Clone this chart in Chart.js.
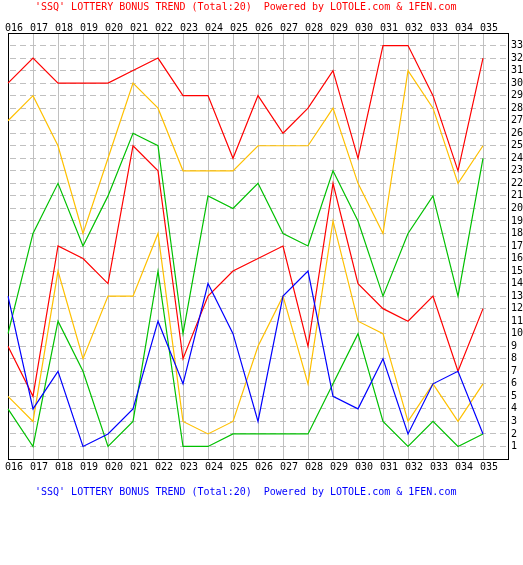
<!DOCTYPE html>
<html>
<head>
<meta charset="utf-8">
<title>SSQ Lottery Bonus Trend</title>
<script src="https://cdn.jsdelivr.net/npm/chart.js@4.4.1/dist/chart.umd.min.js"></script>
<style>
  html, body { margin: 0; padding: 0; background: #fff; }
  #wrap { width: 523px; height: 565px; }
</style>
</head>
<body>
<div id="wrap"><canvas id="trend" width="523" height="565"></canvas></div>
<script>
/* ----------------------------------------------------------
   DATA (issues 016 - 035, red balls sorted + blue ball)
---------------------------------------------------------- */
const periods = ["016","017","018","019","020","021","022","023","024","025",
                 "026","027","028","029","030","031","032","033","034","035"];

const red6  = [30,32,30,30,30,31,32,29,29,24,29,26,28,31,24,33,33,29,23,32];
const red5  = [27,29,25,18,24,30,28,23,23,23,25,25,25,28,22,18,31,28,22,25];
const red4  = [10,18,22,17,21,26,25,10,21,20,22,18,17,23,19,13,18,21,13,24];
const red3  = [ 9, 5,17,16,14,25,23, 8,13,15,16,17, 9,22,14,12,11,13, 7,12];
const red2  = [ 5, 3,15, 8,13,13,18, 3, 2, 3, 9,13, 6,19,11,10, 3, 6, 3, 6];
const red1  = [ 4, 1,11, 7, 1, 3,15, 1, 1, 2, 2, 2, 2, 6,10, 3, 1, 3, 1, 2];
const blue  = [13, 4, 7, 1, 2, 4,11, 6,14,10, 3,13,15, 5, 4, 8, 2, 6, 7, 2];

const yMin = 0, yMax = 34;   // ticks 1..33 shown

const titleText = "'SSQ' LOTTERY BONUS TREND (Total:20)  Powered by LOTOLE.com & 1FEN.com";

/* ----------------------------------------------------------
   STYLE
---------------------------------------------------------- */
const MONO = "'DejaVu Sans Mono', 'Liberation Mono', monospace";
const RED = "#ff0000", ORANGE = "#ffc000", GREEN = "#00c000", BLUE = "#0000ff";
const GRID = "#c0c0c0";

function line(data, color) {
  return {
    data: data,
    borderColor: color,
    backgroundColor: color,
    borderWidth: 1.2,
    pointRadius: 0,
    tension: 0,
    fill: false
  };
}

// black frame round the plot, under the lines
const framePlugin = {
  id: "frame",
  beforeDatasetsDraw(chart) {
    const a = chart.chartArea, ctx = chart.ctx;
    ctx.save();
    ctx.strokeStyle = "#000";
    ctx.lineWidth = 1;
    ctx.strokeRect(Math.round(a.left) + 0.5, Math.round(a.top) + 0.5,
                   Math.round(a.right - a.left), Math.round(a.bottom - a.top));
    ctx.restore();
  }
};

// header (red) + footer (blue) text
const captionPlugin = {
  id: "captions",
  afterDraw(chart) {
    const ctx = chart.ctx;
    ctx.save();
    ctx.font = "10px " + MONO;
    ctx.textAlign = "left";
    ctx.textBaseline = "middle";
    ctx.fillStyle = RED;
    ctx.fillText(titleText, 35, 7);
    ctx.fillStyle = BLUE;
    ctx.fillText(titleText, 35, 492);
    ctx.restore();
  }
};

function xTicks(pad) {
  return {
    autoSkip: false,
    maxRotation: 0,
    minRotation: 0,
    align: "start",
    labelOffset: -3,
    padding: pad,
    color: "#000",
    font: { family: MONO, size: 10 }
  };
}

new Chart(document.getElementById("trend"), {
  type: "line",
  data: {
    labels: periods.concat([""]),
    datasets: [
      line(blue, BLUE),
      line(red6, RED),
      line(red5, ORANGE),
      line(red4, GREEN),
      line(red3, RED),
      line(red2, ORANGE),
      line(red1, GREEN)
    ]
  },
  options: {
    responsive: false,
    animation: false,
    events: [],
    layout: { padding: { left: 8, right: 0, top: 20, bottom: 93 } },
    plugins: {
      legend: { display: false },
      title: { display: false },
      tooltip: { enabled: false }
    },
    scales: {
      x: {
        type: "category",
        position: "bottom",
        offset: false,
        grid: { color: GRID, lineWidth: 1, drawTicks: false },
        border: { display: false },
        ticks: xTicks(2),
        afterFit: s => { s.height = 13; }
      },
      x2: {
        type: "category",
        position: "top",
        offset: false,
        grid: { display: false, drawTicks: false },
        border: { display: false },
        ticks: xTicks(-1),
        afterFit: s => { s.height = 13; }
      },
      y: {
        position: "right",
        min: yMin,
        max: yMax,
        grid: { color: GRID, lineWidth: 1, drawTicks: false },
        border: { display: false, dash: [6, 4], dashOffset: -2 },
        ticks: {
          stepSize: 1,
          autoSkip: false,
          padding: 3,
          crossAlign: "near",
          color: "#000",
          font: { family: MONO, size: 10 },
          callback: v => (v > yMin && v < yMax) ? String(v) : ""
        },
        afterFit: s => { s.width = 15; }
      }
    }
  },
  plugins: [framePlugin, captionPlugin]
});
</script>
</body>
</html>
